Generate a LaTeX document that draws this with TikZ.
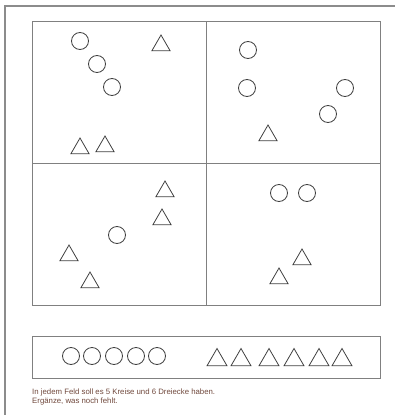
\documentclass[tikz,border=0pt]{standalone}
\usepackage{fontspec}
\setmainfont{Liberation Sans}
\usetikzlibrary{shapes.geometric}
\definecolor{hinweis}{RGB}{112,72,60}

\begin{document}
\begin{tikzpicture}[x=1pt, y=-1pt,
  kreis/.style={draw=black!75, circle, line width=0.8pt, minimum size=17pt, inner sep=0pt},
  dreieck/.style={draw=black!75, regular polygon, regular polygon sides=3, line width=0.8pt, minimum size=21pt, inner sep=0pt},
  gross/.style={minimum size=23pt},
  feld/.style={draw=black!50, line width=0.7pt},
  rand/.style={draw=black!45, line width=1.4pt}]
\useasboundingbox (0,0) rectangle (395,415);
% Seitenrand
\draw[rand] (5,415) -- (5,6) -- (395,6);
% vier Felder
\draw[feld] (32,21) rectangle (380,305);
\draw[feld] (206,21) -- (206,305);
\draw[feld] (32,163) -- (380,163);
% Feld oben links
\node[kreis] (a1) at (80,41) {};
\node[kreis] (a2) at (97,64) {};
\node[kreis] (a3) at (112,87) {};
\node[dreieck] (a4) at (161,45.5) {};
\node[dreieck] (a5) at (80,148.5) {};
\node[dreieck] (a6) at (105,146.5) {};
% Feld oben rechts
\node[kreis] (b1) at (248,50) {};
\node[kreis] (b2) at (247,88) {};
\node[kreis] (b3) at (345,88) {};
\node[kreis] (b4) at (328,114) {};
\node[dreieck] (b5) at (268,135.5) {};
% Feld unten links
\node[dreieck] (c1) at (165,191.5) {};
\node[dreieck] (c2) at (162,219.5) {};
\node[kreis] (c3) at (117,235) {};
\node[dreieck] (c4) at (69,255.5) {};
\node[dreieck] (c5) at (90,282.5) {};
% Feld unten rechts
\node[kreis] (d1) at (279,193) {};
\node[kreis] (d2) at (307,193) {};
\node[dreieck] (d3) at (302,259.5) {};
\node[dreieck] (d4) at (279,278.5) {};
% Vorlage
\draw[feld] (32,336) rectangle (380,378);
\foreach \x [count=\i] in {71,92,114,136,157}
  \node[kreis] (k\i) at (\x,356) {};
\foreach \x [count=\i] in {217,241,269,294,319,342}
  \node[dreieck, gross] (t\i) at (\x,360) {};
\node[anchor=north west, align=left, inner sep=0pt, font=\fontsize{7.8}{9}\selectfont, text=hinweis] (txt) at (32,389)
  {In jedem Feld soll es 5 Kreise und 6 Dreiecke haben.\\Ergänze, was noch fehlt.};
\end{tikzpicture}
\end{document}
